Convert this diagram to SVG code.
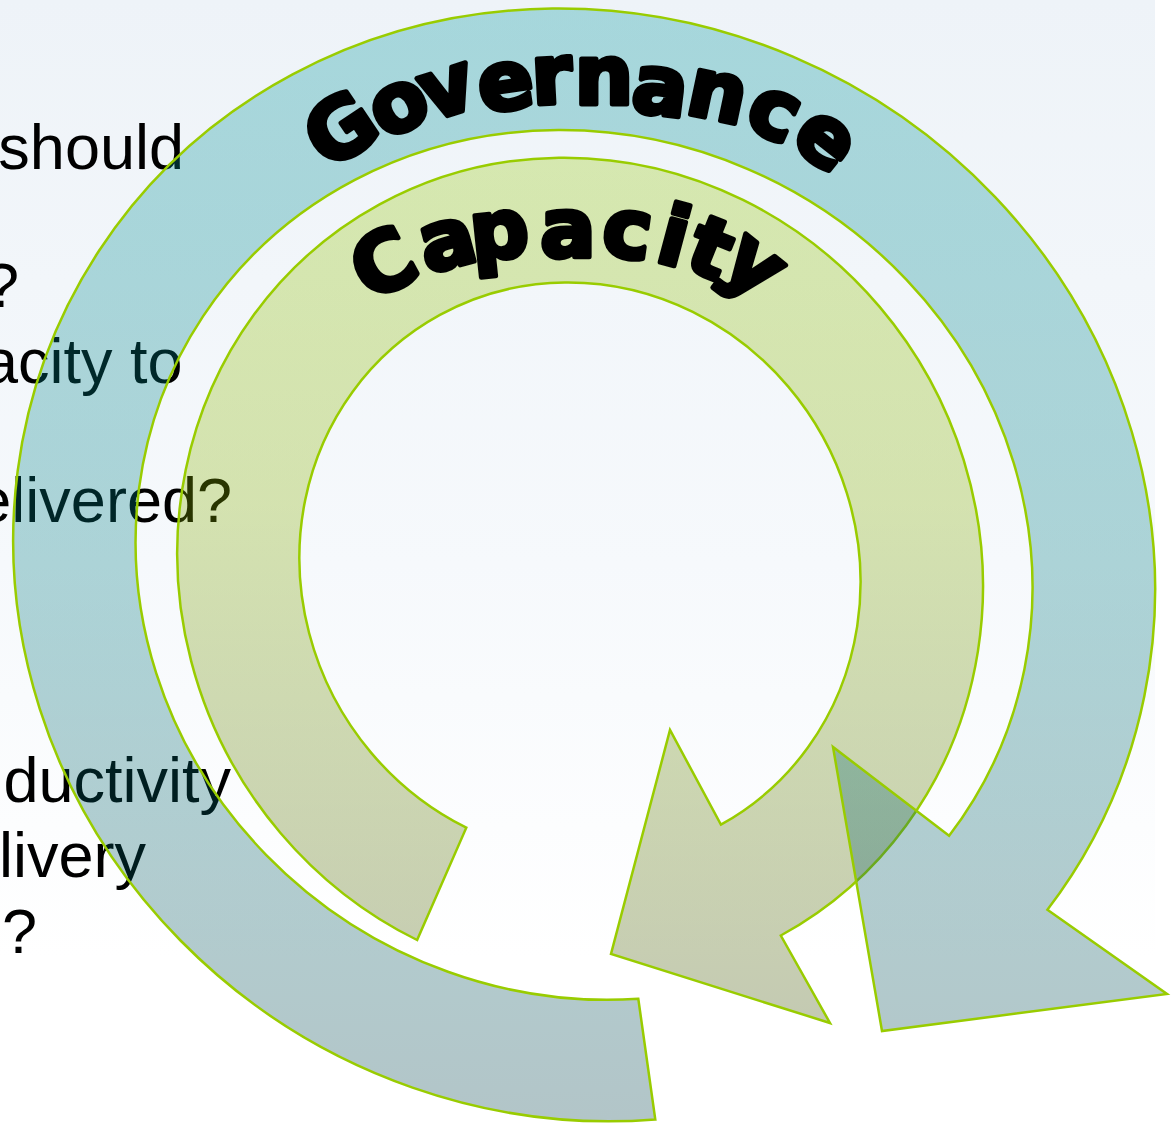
<svg xmlns="http://www.w3.org/2000/svg" width="1176" height="1128" viewBox="0 0 1176 1128">
<defs>
  <linearGradient id="bg" x1="0" y1="0" x2="0" y2="1128" gradientUnits="userSpaceOnUse">
    <stop offset="0" stop-color="#eef3f8"/>
    <stop offset="0.5" stop-color="#f6f9fc"/>
    <stop offset="0.85" stop-color="#ffffff"/>
  </linearGradient>
  <linearGradient id="gBlue" x1="0" y1="8" x2="0" y2="1128" gradientUnits="userSpaceOnUse">
    <stop offset="0" stop-color="#00969b"/>
    <stop offset="0.5" stop-color="#007b81"/>
    <stop offset="1" stop-color="#003e48"/>
  </linearGradient>
  <linearGradient id="gGreen" x1="0" y1="157" x2="0" y2="1026" gradientUnits="userSpaceOnUse">
    <stop offset="0" stop-color="#97ca06"/>
    <stop offset="0.4" stop-color="#87af00"/>
    <stop offset="1" stop-color="#3a4e00"/>
  </linearGradient>
  <style>
    .arrow { stroke:#99cc00; stroke-width:2.5; stroke-linejoin:miter; fill-opacity:0.3; }
    .side { font-family:"Liberation Sans", Arial, sans-serif; font-size:63px; fill:#000; text-anchor:end; }
    .label { font-family:"DejaVu Sans", "Liberation Sans", sans-serif; font-weight:bold; font-size:82px; fill:#000; stroke:#000; stroke-width:5; stroke-linejoin:round; }
  </style>
</defs>
<rect x="0" y="0" width="1176" height="1128" fill="#ffffff"/>
<rect x="0" y="0" width="1155" height="1128" fill="url(#bg)"/>

<g id="context-text">
  <text class="side" x="184" y="169">should</text>
  <text class="side" x="19" y="307">?</text>
  <text class="side" x="182.5" y="383">acity to</text>
  <text class="side" x="232" y="522">elivered?</text>
  <text class="side" x="231" y="802">ductivity</text>
  <text class="side" x="146" y="877">livery</text>
  <text class="side" x="37" y="953">?</text>
</g>

<g id="connectors"></g>

<g id="capacity">
  <path class="arrow" fill="url(#gGreen)" d="M417.1,940 A417,398 60 1 1 780.8,935.5 L830,1023 L611,954 L670,730 L720.9,824.6 A291,277 60 1 0 466.3,827.7 Z"/>
</g>

<g id="governance">
  <path class="arrow" fill="url(#gBlue)" d="M655.3,1119.5 A578,549 30 1 1 1047.4,909.8 L1167,994 L882,1031 L833,747 L949.1,835.8 A455,428 30 1 0 638.3,998.8 Z"/>
</g>

<g id="labels">
  <text id="governance-label" class="label" x="328.8 385.1 429.4 481.6 532.8 574.8 629.8 683.7 741.7 788.3" y="171.6 140.8 121.6 113.1 104.3 104.4 110.8 112.8 125.6 142.3" rotate="-34 -27 -18 -8 -3 0 7 12 24 38">Governance</text>
  <text id="capacity-label" class="label" x="370.2 427 472.7 540.3 599.8 653.5 682 717.3" y="302.6 273.8 261.1 257.4 253.8 260.3 267.1 268.5" rotate="-28 -15 -6 0 8 15 22 38">Capacity</text>
</g>
</svg>
